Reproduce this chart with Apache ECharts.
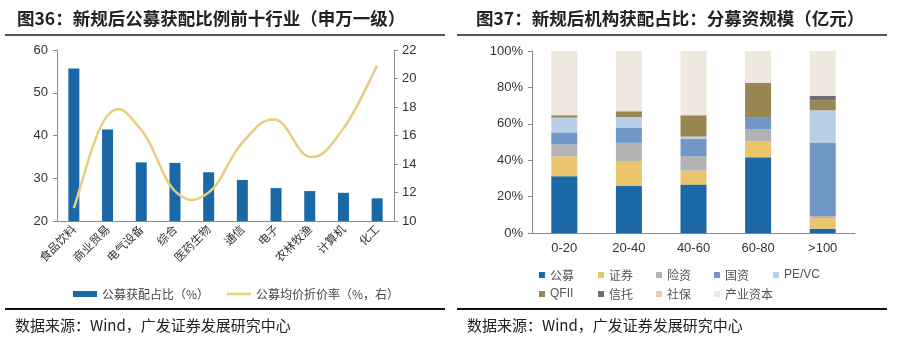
<!DOCTYPE html>
<html><head><meta charset="utf-8">
<script src="https://cdn.jsdelivr.net/npm/echarts@6/dist/echarts.min.js"></script>
<style>html,body{margin:0;padding:0;background:#fff;}#c{width:897px;height:341px;}</style>
</head><body><div id="c"></div>
<script>
// ---- Left chart data ----
const industryCats = ['食品饮料','商业贸易','电气设备','综合','医药生物','通信','电子','农林牧渔','计算机','化工'];
const shareValues = [55.7, 41.4, 33.7, 33.6, 31.4, 29.6, 27.7, 27.0, 26.6, 25.3];
const discountValues = [10.9, 17.4, 16.4, 12.1, 12.0, 15.5, 17.1, 14.5, 16.5, 20.9];
const shareName = '公募获配占比（%）';
const discountName = '公募均价折价率（%，右）';

// ---- Right chart data ----
const sizeCats = ['0-20','20-40','40-60','60-80','>100'];
const investorNames = ['公募','证券','险资','国资','PE/VC','QFII','信托','社保','产业资本'];
const gongmu   = [31.2, 25.8, 26.6, 41.6, 2.4];
const zhengquan= [10.9, 13.4, 7.7, 8.9, 5.8];
const xianzi   = [6.6, 10.3, 7.8, 6.6, 1.1];
const guozi    = [6.6, 8.4, 9.8, 6.6, 40.4];
const pevc     = [8.1, 5.8, 1.1, 0, 17.7];
const qfii     = [1.3, 3.2, 11.7, 18.9, 5.5];
const xintuo   = [0, 0, 0, 0, 2.4];
const shebao   = [0, 0, 0, 0, 0];
const chanye   = [35.3, 33.1, 35.3, 17.4, 24.7];

const investorData = [gongmu, zhengquan, xianzi, guozi, pevc, qfii, xintuo, shebao, chanye];
const investorColors = ['#1A69A6','#EAC56C','#B3B3B3','#7098C6','#B8CFE8','#988752','#6E6E6E','#F3C9A1','#EFE8DF'];

const FONT = 'Liberation Sans, Arial, sans-serif';
const CJK = '"Noto Sans CJK SC", sans-serif';
const axisLineStyle = {color:'#8a8a8a', width:1};
const LINE_COLOR = '#E8CD80';

const chart = echarts.init(document.getElementById('c'));

const legendPos = [[534,264],[593,264],[651,264],[709,264],[768,264],[534,283],[593,283],[651,283],[709,283]];

const legends = [
  {data:[{name:shareName, icon:'rect'}], left:68, top:283, itemWidth:24, itemHeight:6,
   textStyle:{fontFamily:CJK, fontSize:12, color:'#444'}},
  {data:[{name:discountName, icon:'rect'}], left:222, top:283, itemWidth:24, itemHeight:2.5,
   textStyle:{fontFamily:CJK, fontSize:12, color:'#444'}}
];
investorNames.forEach((n,i)=>{
  legends.push({data:[{name:n, icon:'rect'}], left:legendPos[i][0], top:legendPos[i][1],
    itemWidth:6, itemHeight:6, itemGap:4,
    textStyle:{fontFamily: n==='PE/VC'||n==='QFII' ? FONT : CJK, fontSize:12, color:'#555'}});
});

// Excel-like smoothed line (Catmull-Rom style Bezier) drawn through axis coordinates
function renderSmoothLine(params, api) {
  if (params.dataIndex !== 0) return null;
  const pts = discountValues.map((v, i) => api.coord([i, v]));
  const k = 0.2;
  const children = [];
  for (let i = 0; i < pts.length - 1; i++) {
    const p0 = pts[Math.max(i - 1, 0)], p1 = pts[i], p2 = pts[i + 1], p3 = pts[Math.min(i + 2, pts.length - 1)];
    children.push({
      type:'bezierCurve',
      shape:{
        x1:p1[0], y1:p1[1], x2:p2[0], y2:p2[1],
        cpx1:p1[0] + (p2[0] - p0[0]) * k, cpy1:p1[1] + (p2[1] - p0[1]) * k,
        cpx2:p2[0] - (p3[0] - p1[0]) * k, cpy2:p2[1] - (p3[1] - p1[1]) * k
      },
      style:{stroke:LINE_COLOR, lineWidth:2.5, fill:null}
    });
  }
  return {type:'group', children:children};
}

const series = [
  {name:shareName, type:'bar', xAxisIndex:0, yAxisIndex:0, data:shareValues, barWidth:11,
   itemStyle:{color:'#1A69A6'}},
  {name:discountName, type:'custom', coordinateSystem:'cartesian2d', xAxisIndex:0, yAxisIndex:1,
   data:discountValues.map((v, i) => [i, v]), encode:{x:0, y:1},
   renderItem:renderSmoothLine, itemStyle:{color:LINE_COLOR}, z:5}
];
investorNames.forEach((n,i)=>{
  series.push({name:n, type:'bar', stack:'s', xAxisIndex:1, yAxisIndex:2, data:investorData[i],
    barWidth:26, itemStyle:{color:investorColors[i]}});
});

const option = {
  animation:false,
  backgroundColor:'#fff',
  grid:[
    {left:57, right:503, top:50, bottom:120},
    {left:532, right:42, top:51, bottom:108}
  ],
  xAxis:[
    {type:'category', gridIndex:0, data:industryCats,
     axisLine:{lineStyle:axisLineStyle}, axisTick:{lineStyle:axisLineStyle, length:4},
     axisLabel:{rotate:45, fontFamily:CJK, fontSize:11.5, color:'#333', margin:6, interval:0}},
    {type:'category', gridIndex:1, data:sizeCats,
     axisLine:{lineStyle:axisLineStyle}, axisTick:{lineStyle:axisLineStyle, length:4},
     axisLabel:{fontFamily:FONT, fontSize:13, color:'#333', margin:9}}
  ],
  yAxis:[
    {type:'value', gridIndex:0, min:20, max:60, interval:10, position:'left',
     axisLine:{show:true, lineStyle:axisLineStyle}, axisTick:{show:true, lineStyle:axisLineStyle, length:4},
     splitLine:{show:false}, axisLabel:{fontFamily:FONT, fontSize:13, color:'#333', margin:9}},
    {type:'value', gridIndex:0, min:10, max:22, interval:2, position:'right',
     axisLine:{show:true, lineStyle:axisLineStyle}, axisTick:{show:true, lineStyle:axisLineStyle, length:4},
     splitLine:{show:false}, axisLabel:{fontFamily:FONT, fontSize:13, color:'#333', margin:8}},
    {type:'value', gridIndex:1, min:0, max:100, interval:20,
     axisLine:{show:true, lineStyle:axisLineStyle}, axisTick:{show:true, lineStyle:axisLineStyle, length:4},
     splitLine:{show:false}, axisLabel:{fontFamily:FONT, fontSize:13, color:'#333', margin:9, formatter:'{value}%'}}
  ],
  legend:legends,
  series:series,
  graphic:[
    {type:'text', left:17, top:10, style:{text:'图36：新规后公募获配比例前十行业（申万一级）', font:'bold 17.5px "Noto Sans CJK SC", sans-serif', fill:'#222'}},
    {type:'text', left:476, top:10, style:{text:'图37：新规后机构获配占比：分募资规模（亿元）', font:'bold 17.5px "Noto Sans CJK SC", sans-serif', fill:'#222'}},
    {type:'line', shape:{x1:5, y1:35, x2:445, y2:35}, style:{stroke:'#555', lineWidth:2}},
    {type:'line', shape:{x1:457, y1:35, x2:887, y2:35}, style:{stroke:'#555', lineWidth:2}},
    {type:'line', shape:{x1:5, y1:309, x2:445, y2:309}, style:{stroke:'#111', lineWidth:2}},
    {type:'line', shape:{x1:457, y1:309, x2:887, y2:309}, style:{stroke:'#111', lineWidth:2}},
    {type:'text', left:15, top:318, style:{text:'数据来源：Wind，广发证券发展研究中心', font:'15px "Noto Sans CJK SC", sans-serif', fill:'#222'}},
    {type:'text', left:467, top:318, style:{text:'数据来源：Wind，广发证券发展研究中心', font:'15px "Noto Sans CJK SC", sans-serif', fill:'#222'}}
  ]
};
chart.setOption(option);
</script></body></html>
